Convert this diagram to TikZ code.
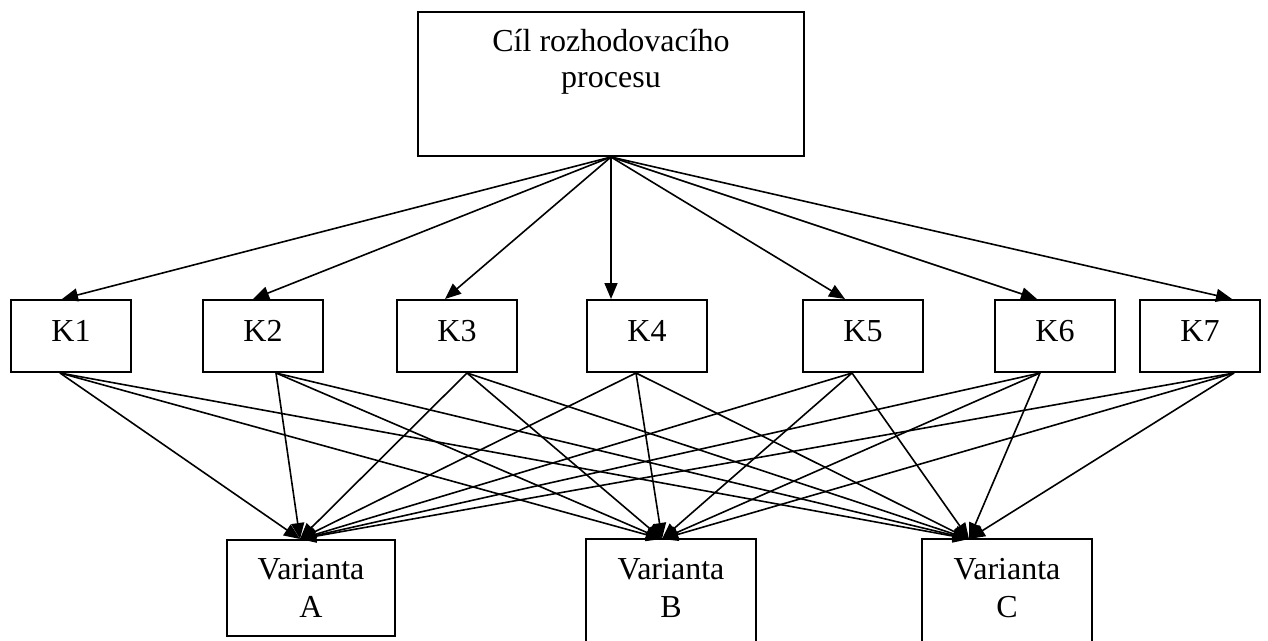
\documentclass[tikz,border=0pt]{standalone}
\usepackage{fontspec}
\setmainfont{Liberation Serif}
\usetikzlibrary{arrows.meta}

\begin{document}
\begin{tikzpicture}[x=1pt,y=-1pt,
    box/.style={draw,line width=2pt,inner sep=0pt,font=\fontsize{32}{36}\selectfont},
    kbox/.style={box,minimum width=120pt,minimum height=72pt,text depth=10pt},
    vbox/.style={box,minimum width=168pt,minimum height=96pt,align=center,font=\fontsize{32}{38}\selectfont},
    conn/.style={line width=1.6pt},
    arr/.style={conn,-{Triangle[length=16pt,width=13pt]}}]
    \clip (0,0) rectangle (1268,640);
    % goal
    \node[box,minimum width=386pt,minimum height=144pt] (goal) at (611,84) {};
    \node[anchor=north,align=center,inner sep=0pt,font=\fontsize{32}{36}\selectfont] (goaltext) at ([yshift=-18pt]goal.north) {Cíl rozhodovacího\\procesu};
    % criteria
    \node[kbox] (K1) at (71,336) {K1};
    \node[kbox] (K2) at (263,336) {K2};
    \node[kbox] (K3) at (457,336) {K3};
    \node[kbox] (K4) at (647,336) {K4};
    \node[kbox] (K5) at (863,336) {K5};
    \node[kbox] (K6) at (1055,336) {K6};
    \node[kbox] (K7) at (1200,336) {K7};
    % variants
    \node[vbox] (A) at (311,588) {Varianta\\A};
    \node[vbox,draw=none] (B) at (671,588) {Varianta\\B};
    \node[vbox,draw=none] (C) at (1007,588) {Varianta\\C};
    \draw[line width=2pt] (B.north west) rectangle ([yshift=-30pt]B.south east);
    \draw[line width=2pt] (C.north west) rectangle ([yshift=-30pt]C.south east);
    % arrows
    \foreach \k/\s in {1/-9,2/-10,3/-12,4/-36,5/-18,6/-18,7/32}
        \draw[arr] (goal.south) -- ([xshift=\s pt]K\k.north);
    \foreach \k/\s in {1/-11,2/13,3/10,4/-11,5/-11,6/-15,7/34} {
        \foreach \v/\t in {A/-11,B/-9,C/-38}
            \draw[arr] ([xshift=\s pt]K\k.south) -- ([xshift=\t pt]\v.north);
    }
\end{tikzpicture}
\end{document}
